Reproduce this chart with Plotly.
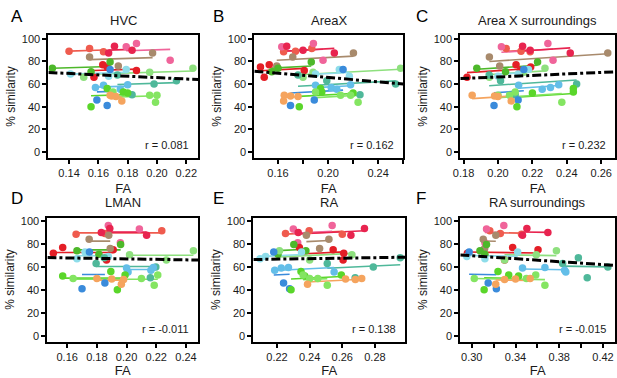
import plotly.graph_objects as go

# ---------------- data ----------------
panels = ["HVC", "AreaX", "Area X surroundings", "LMAN", "RA", "RA surroundings"]
letters = ["A", "B", "C", "D", "E", "F"]
r_text = ["r = 0.081", "r = 0.162", "r = 0.232", "r = -0.011", "r = 0.138", "r = -0.015"]

bird_colors = ["#EF5B4E", "#F0649A", "#E8244F", "#E41E26", "#A88A6C", "#4DB82A",
               "#8EE07E", "#8EDDEA", "#4FB89A", "#63BEE8", "#3A8BDB", "#5AD62A",
               "#84E562", "#F5A45E"]

# % similarity per bird (shared across regions)
sim = [
    [89, 91.5, 88.5],
    [96, 93, 81],
    [93.5, 90, 87.5],
    [77, 75, 66, 72],
    [84, 87.5, 76],
    [74, 79.5, 71],
    [74, 70.5, 66],
    [69, 73, 67],
    [60, 63, 68, 50.5],
    [57, 59, 55.5, 59.5],
    [73, 46, 41],
    [40, 56, 53, 52],
    [50, 50, 44, 53],
    [50, 45, 49.5, 49],
]

fa_hvc = [
    [0.140, 0.154, 0.1635], [0.186, 0.179, 0.209], [0.171, 0.183, 0.167],
    [0.163, 0.166, 0.157, 0.186], [0.154, 0.197, 0.1736], [0.1286, 0.168, 0.155],
    [0.2245, 0.195, 0.150], [0.141, 0.179, 0.167], [0.198, 0.2133, 0.173, 0.183],
    [0.158, 0.1635, 0.175, 0.180], [0.168, 0.159, 0.166], [0.155, 0.166, 0.177, 0.180],
    [0.195, 0.200, 0.199, 0.170], [0.168, 0.176, 0.169, 0.172],
]
fa_areax = [
    [0.174, 0.187, 0.1645], [0.1883, 0.163, 0.196], [0.167, 0.180, 0.205],
    [0.153, 0.146, 0.149, 0.181], [0.1718, 0.2203, 0.159], [0.160, 0.1866, 0.155],
    [0.258, 0.188, 0.180], [0.190, 0.209, 0.217], [0.254, 0.199, 0.176, 0.2255],
    [0.2025, 0.190, 0.207, 0.218], [0.212, 0.189, 0.170], [0.177, 0.194, 0.195, 0.220],
    [0.210, 0.218, 0.224, 0.190], [0.165, 0.1645, 0.170, 0.176],
]
fa_axsur = [
    [0.2134, 0.2048, 0.2187], [0.229, 0.202, 0.232], [0.2143, 0.2187, 0.242],
    [0.2105, 0.219, 0.182, 0.213], [0.195, 0.2638, 0.201], [0.1877, 0.223, 0.2044],
    [0.2273, 0.215, 0.195], [0.2118, 0.2177, 0.200], [0.2457, 0.2015, 0.1949, 0.210],
    [0.2305, 0.212, 0.2257, 0.2353], [0.215, 0.2117, 0.1977], [0.211, 0.2438, 0.2438, 0.220],
    [0.2067, 0.200, 0.2371, 0.210], [0.185, 0.2077, 0.198, 0.200],
]
fa_lman = [
    [0.1854, 0.2237, 0.166], [0.1877, 0.2086, 0.1958], [0.1887, 0.183, 0.2135],
    [0.157, 0.191, 0.1865, 0.1507], [0.1748, 0.188, 0.189], [0.1666, 0.196, 0.1814],
    [0.245, 0.202, 0.2268], [0.1877, 0.172, 0.1666], [0.2197, 0.1795, 0.185, 0.216],
    [0.2164, 0.200, 0.201, 0.218], [0.175, 0.1854, 0.170], [0.1938, 0.1894, 0.199, 0.157],
    [0.164, 0.210, 0.2186, 0.221], [0.180, 0.1965, 0.190, 0.198],
]
fa_ra = [
    [0.2252, 0.2397, 0.260], [0.2538, 0.230, 0.2327], [0.2736, 0.233, 0.2653],
    [0.2337, 0.2544, 0.2605, 0.2609], [0.2518, 0.238, 0.2461], [0.2377, 0.2303, 0.2206],
    [0.2215, 0.2659, 0.240], [0.213, 0.235, 0.2096], [0.279, 0.2508, 0.2955, 0.2679],
    [0.2186, 0.2226, 0.255, 0.227], [0.218, 0.224, 0.2277], [0.2286, 0.2347, 0.2594, 0.237],
    [0.240, 0.245, 0.2508, 0.236], [0.2719, 0.2387, 0.262, 0.268],
]
fa_rasur = [
    [0.3261, 0.3165, 0.3455], [0.3293, 0.3135, 0.312], [0.3504, 0.3696, 0.3464],
    [0.3374, 0.3606, 0.330, 0.296], [0.3105, 0.322, 0.3118], [0.3075, 0.3135, 0.312],
    [0.3774, 0.359, 0.330], [0.2955, 0.342, 0.312], [0.4245, 0.3831, 0.3975, 0.4056],
    [0.3849, 0.3464, 0.386, 0.3669], [0.2976, 0.315, 0.3225], [0.3113, 0.324, 0.3338, 0.3428],
    [0.3023, 0.350, 0.3669, 0.3585], [0.3534, 0.3219, 0.340, 0.330],
]
fa_all = [fa_hvc, fa_areax, fa_axsur, fa_lman, fa_ra, fa_rasur]

# within-bird (common) slope and overall fit per region
bird_slope = [40, 60, 100, 0, 70, -15]
fit_slope = [-61, -94, 67, -21, 22, -64]
fit_intercept = [77.9, 84.6, 52.9, 71.2, 61.9, 88.9]

x_ranges = [[0.1259, 0.2281], [0.1411, 0.2600], [0.1781, 0.2680],
            [0.1467, 0.2482], [0.2055, 0.2985], [0.2895, 0.4310]]
x_tick_labels = [[0.14, 0.16, 0.18, 0.20, 0.22], [0.16, 0.20, 0.24],
                 [0.18, 0.20, 0.22, 0.24, 0.26], [0.16, 0.18, 0.20, 0.22, 0.24],
                 [0.22, 0.24, 0.26, 0.28], [0.30, 0.34, 0.38, 0.42]]
x_minor = [None, 0.02, None, None, None, 0.02]
y_ticks = [0, 20, 40, 60, 80, 100]

# ---------------- layout geometry ----------------
W, H = 617, 378
boxes = [(42, 194, 33, 157), (251, 402, 33, 157), (460, 617, 33, 157),
         (41, 194, 218, 344), (250, 404, 218, 344), (460, 617, 218, 344)]
letter_pos = [(2, 2), (207, 2), (413, 2), (2, 187), (207, 187), (413, 187)]

FONT = "Liberation Sans, Arial, Helvetica, sans-serif"
fig = go.Figure()
layout = dict(width=W, height=H, autosize=False, margin=dict(l=0, r=0, t=0, b=0),
              paper_bgcolor="white", plot_bgcolor="white", showlegend=False,
              font=dict(family=FONT, color="#1a1a1a"))
annotations = []

for i in range(6):
    xa = "x" if i == 0 else f"x{i+1}"
    ya = "y" if i == 0 else f"y{i+1}"
    xk = "xaxis" if i == 0 else f"xaxis{i+1}"
    yk = "yaxis" if i == 0 else f"yaxis{i+1}"
    l, r, t, b = boxes[i]
    fa = fa_all[i]
    s = bird_slope[i]
    # bird regression lines
    for k in range(len(sim)):
        xs, ys = fa[k], sim[k]
        mx = sum(xs) / len(xs)
        my = sum(ys) / len(ys)
        x0, x1 = min(xs), max(xs)
        fig.add_trace(go.Scatter(x=[x0, x1], y=[my + s * (x0 - mx), my + s * (x1 - mx)],
                                 mode="lines", line=dict(color=bird_colors[k], width=1.6),
                                 xaxis=xa, yaxis=ya, hoverinfo="skip"))
    # bird points
    for k in range(len(sim)):
        fig.add_trace(go.Scatter(x=fa[k], y=sim[k], mode="markers",
                                 marker=dict(color=bird_colors[k], size=7.5, line=dict(width=0)),
                                 xaxis=xa, yaxis=ya))
    # overall fit
    xr = x_ranges[i]
    fig.add_trace(go.Scatter(x=xr, y=[fit_intercept[i] + fit_slope[i] * v for v in xr],
                             mode="lines", line=dict(color="black", width=3, dash="dashdot"),
                             xaxis=xa, yaxis=ya, hoverinfo="skip"))

    xaxis = dict(domain=[l / W, r / W], range=xr, anchor=ya,
                 tickvals=x_tick_labels[i], tickformat=".2f",
                 ticks="outside", ticklen=4, tickwidth=1.5, tickcolor="black",
                 showline=True, linewidth=2, linecolor="black", mirror=True,
                 showgrid=False, zeroline=False,
                 tickfont=dict(size=11, family=FONT, color="#1a1a1a"),
                 title=dict(text="FA", font=dict(size=13, family=FONT), standoff=6))
    if x_minor[i]:
        xaxis["minor"] = dict(dtick=x_minor[i], tick0=0, ticks="outside", ticklen=4,
                              tickwidth=1.5, tickcolor="black", showgrid=False)
    layout[xk] = xaxis
    layout[yk] = dict(domain=[1 - b / H, 1 - t / H], range=[-5, 103], anchor=xa,
                      tickvals=y_ticks, ticks="outside", ticklen=4, tickwidth=1.5,
                      tickcolor="black", showline=True, linewidth=2, linecolor="black",
                      mirror=True, showgrid=False, zeroline=False,
                      tickfont=dict(size=11, family=FONT, color="#1a1a1a"),
                      title=dict(text="% similarity", font=dict(size=12, family=FONT),
                                 standoff=4))
    # panel title
    annotations.append(dict(text=panels[i], xref="paper", yref="paper",
                            x=(l + r) / 2 / W, y=1 - (t - 15) / H, xanchor="center",
                            yanchor="middle", showarrow=False,
                            font=dict(size=13, family=FONT, color="#1a1a1a")))
    # panel letter
    lx, ly = letter_pos[i]
    annotations.append(dict(text=letters[i], xref="paper", yref="paper",
                            x=lx / W, y=1 - ly / H, xanchor="left", yanchor="top",
                            showarrow=False, font=dict(size=17, family=FONT, color="black")))
    # r value
    annotations.append(dict(text=r_text[i], xref=f"{xa} domain", yref=f"{ya} domain",
                            x=0.955, y=0.1, xanchor="right", yanchor="middle",
                            showarrow=False, font=dict(size=11, family=FONT, color="#1a1a1a")))

layout["annotations"] = annotations
fig.update_layout(**layout)
fig.write_html("out.html", config={"displayModeBar": False},
               post_script="document.body.style.margin='0';")
